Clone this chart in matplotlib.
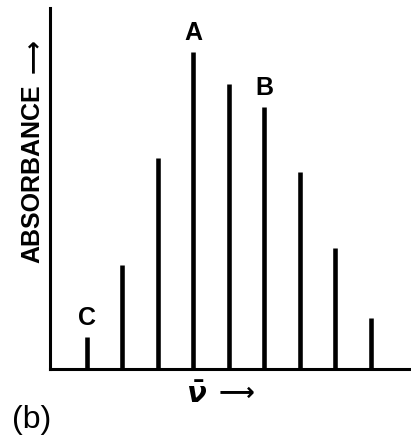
import matplotlib
matplotlib.use("Agg")
import matplotlib.pyplot as plt

# Data (arbitrary absorbance units)
positions = [1, 2, 3, 4, 5, 6, 7, 8, 9]
absorbance = [32, 104, 211, 317, 285, 262, 197, 121, 51]
peak_labels = {"A": 4, "B": 6, "C": 1}

plt.rcParams["mathtext.fontset"] = "custom"
plt.rcParams["mathtext.it"] = "DejaVu Sans:italic:bold"
plt.rcParams["mathtext.rm"] = "DejaVu Sans:bold"

W, H = 411, 443
fig = plt.figure(figsize=(W / 100, H / 100), dpi=100)
fam = ["Liberation Sans", "DejaVu Sans"]

left_px, base_px, top_px = 50, 369, 8
ax = fig.add_axes([left_px / W, (H - base_px) / H, (W - left_px) / W, (base_px - top_px) / H])

ax.vlines(positions, 0, absorbance, colors="black", linewidth=3.3)
ax.set_xlim(-0.042, 10.127)
ax.set_ylim(0, 361)

for s in ["top", "right"]:
    ax.spines[s].set_visible(False)
for s in ["left", "bottom"]:
    ax.spines[s].set_linewidth(2.2)
    ax.spines[s].set_color("black")
ax.set_xticks([])
ax.set_yticks([])

for lab, pos in peak_labels.items():
    ax.annotate(lab, xy=(pos, absorbance[pos - 1]), xytext=(0, 14),
                textcoords="offset points", ha="center", va="center",
                fontsize=18, fontweight="bold", family=fam)

# y label: word + long arrow
fig.text(32 / W, 1 - 174 / H, "ABSORBANCE", rotation=90, ha="center", va="center",
         fontsize=18, fontweight="bold", family=fam)
fig.text(33 / W, 1 - 56 / H, "\u27f6", rotation=90, ha="center", va="center",
         fontsize=17, fontweight="bold", family=["DejaVu Sans"])

# x label: nu-bar + long arrow
fig.text(197 / W, 1 - 395 / H, r"$\bar{\nu}$", ha="center", va="center", fontsize=21)
fig.text(236 / W, 1 - 393 / H, "\u27f6", ha="center", va="center",
         fontsize=18, fontweight="bold", family=["DejaVu Sans"])

fig.text(12 / W, 1 - 420 / H, "(b)", ha="left", va="center", fontsize=23, family=fam)

fig.savefig("out.png", dpi=100)
